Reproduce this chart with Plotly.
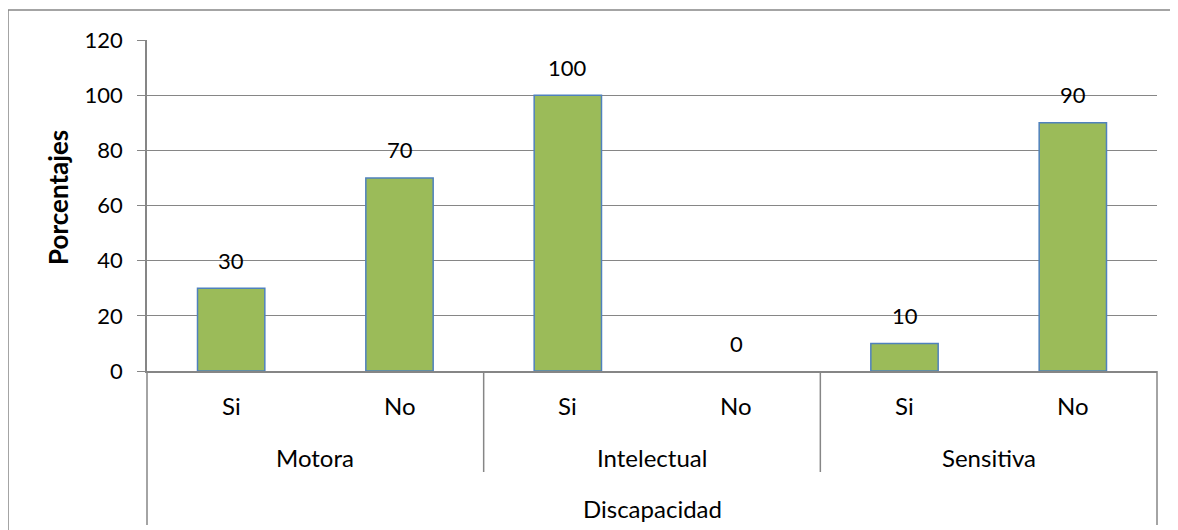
import plotly.graph_objects as go

groups = ["Motora", "Motora", "Intelectual", "Intelectual", "Sensitiva", "Sensitiva"]
answers = ["Si", "No", "Si", "No", "Si", "No"]
values = [30, 70, 100, 0, 10, 90]
y_ticks = [0, 20, 40, 60, 80, 100, 120]
y_title = "Porcentajes"
x_title = "Discapacidad"

OFF = 8  # page body margin
W, H = 1178 - OFF, 530 - OFF
ML, MR, MT, MB = 147 - OFF, 21, 40 - OFF, 159
pw, ph = W - ML - MR, H - MT - MB

def px_x(p):
    return (p - OFF - ML) / pw

def px_y(p):
    return (H - MB - (p - OFF)) / ph

FONT = "Lato"
FS = 22      # numbers
FSW = 24     # words
GRID = "#868686"

fig = go.Figure()
fig.add_trace(go.Bar(
    x=[groups, answers], y=values,
    marker=dict(color="#9BBB59",
                line=dict(color="#4F81BD", width=[1.5 if v > 0 else 0 for v in values])),
    width=0.4,
))

for i, v in enumerate(values):
    fig.add_annotation(x=i, y=v, text=str(v), showarrow=False, yanchor="middle",
                       yshift=28, font=dict(family=FONT, size=FS, color="#000"))

# category labels (sub level and group level)
for i, a in enumerate(answers):
    fig.add_annotation(x=i, xref="x", yref="paper", y=px_y(406), text=a, showarrow=False,
                       yanchor="middle", font=dict(family=FONT, size=FSW, color="#000"))
seen = []
for g in groups:
    if g not in seen:
        seen.append(g)
for g in seen:
    idx = [i for i, gg in enumerate(groups) if gg == g]
    fig.add_annotation(x=sum(idx) / len(idx), xref="x", yref="paper", y=px_y(457), text=g,
                       showarrow=False, yanchor="middle",
                       font=dict(family=FONT, size=FSW, color="#000"))

fig.add_annotation(xref="paper", yref="paper", x=0.5, y=px_y(508), text=x_title,
                   showarrow=False, yanchor="middle", font=dict(family=FONT, size=FSW, color="#000"))
fig.add_annotation(xref="paper", yref="paper", x=px_x(58), y=px_y(198),
                   text="<b>" + y_title + "</b>", textangle=-90, showarrow=False,
                   xanchor="center", yanchor="middle",
                   font=dict(family=FONT, size=26, color="#000"))

shapes = []
# outer chart border
shapes.append(dict(type="rect", xref="paper", yref="paper", x0=px_x(8), x1=px_x(1200),
                   y0=px_y(560), y1=px_y(10), line=dict(color=GRID, width=1.5)))
# category axis boundaries
ng = len(seen)
bounds = [(0, 525), (1, 525)] + [(k / ng, 472) for k in range(1, ng)]
for xf, ybot in bounds:
    shapes.append(dict(type="line", xref="paper", yref="paper", x0=xf, x1=xf,
                       y0=0, y1=px_y(ybot), line=dict(color=GRID, width=1.5)))
fig.update_layout(shapes=shapes)

fig.update_layout(
    width=W, height=H, margin=dict(l=ML, r=MR, t=MT, b=MB),
    plot_bgcolor="white", paper_bgcolor="white", showlegend=False,
    font=dict(family=FONT, size=FS, color="#000"),
)
fig.update_xaxes(type="multicategory", showdividers=False, showticklabels=False,
                 showline=True, linecolor=GRID, linewidth=1.5, ticks="", showgrid=False)
fig.update_yaxes(range=[0, 120], tickvals=y_ticks, showgrid=True, gridcolor=GRID, gridwidth=1,
                 showline=True, linecolor=GRID, linewidth=1.5, ticks="outside", ticklen=8,
                 tickcolor=GRID, zeroline=False, ticklabelstandoff=10,
                 tickfont=dict(family=FONT, size=FS, color="#000"))

fig.write_html("out.html")
